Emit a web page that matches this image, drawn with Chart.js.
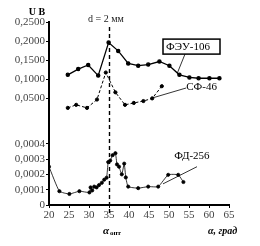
<!DOCTYPE html>
<html lang="ru">
<head>
<meta charset="UTF-8">
<script src="https://cdn.jsdelivr.net/npm/chart.js@4.4.0/dist/chart.umd.min.js"></script>
<style>
  html, body { margin: 0; padding: 0; background: #fff; }
  #wrap { width: 260px; height: 246px; }
</style>
</head>
<body>
<div id="wrap"><canvas id="myChart" width="260" height="246"></canvas></div>
<script>
// data
var feuX = [24.7, 27.3, 29.8, 32.3, 34.9, 37.3, 39.8, 42.3, 44.8, 47.6, 50.1, 52.6, 55.1, 57.4, 60.1, 62.6];
var feuY = [0.111, 0.126, 0.137, 0.109, 0.196, 0.174, 0.141, 0.135, 0.138, 0.146, 0.135, 0.111, 0.104, 0.102, 0.102, 0.102];

var sfX = [24.7, 26.8, 29.5, 32.0, 34.2, 36.6, 39.0, 41.2, 43.6, 45.8, 48.2];
var sfY = [0.024, 0.032, 0.024, 0.046, 0.117, 0.065, 0.032, 0.037, 0.042, 0.049, 0.081];

var fdX = [20, 22.6, 25.1, 27.6, 30.1, 30.4, 30.8, 31.3, 31.9, 32.5, 33.2, 33.8, 34.4, 34.8, 35.3, 35.9, 36.6, 37.0, 37.5, 38.2, 38.8, 39.2, 39.8, 42.3, 44.8, 47.3, 49.8, 52.3, 53.6];
var fdY = [0.00025, 0.00009, 0.000072, 0.00009, 0.000082, 0.000115, 0.000095, 0.00012, 0.000115, 0.00013, 0.000145, 0.000165, 0.000178, 0.00028, 0.00029, 0.000325, 0.000338, 0.000265, 0.00025, 0.0002, 0.00027, 0.00018, 0.00012, 0.00011, 0.00012, 0.00012, 0.000197, 0.000197, 0.00015];

var xTicks = [20, 25, 30, 35, 40, 45, 50, 55, 60, 65];
var upperTicks = [0.05, 0.1, 0.15, 0.2, 0.25];
var lowerTicks = [0, 0.0001, 0.0002, 0.0003, 0.0004];
var alphaOpt = 35;

function pts(xs, ys) {
    return xs.map(function (x, i) { return { x: x, y: ys[i] }; });
}
function fmt(v) {
    if (v === 0) return '0';
    return v.toFixed(4).replace('.', ',');
}

var serif = '"Liberation Serif", "DejaVu Serif", serif';

var extras = {
    id: 'extras',
    beforeDatasetsDraw: function (chart) {
        var ctx = chart.ctx;
        var xs = chart.scales.x;
        var px = Math.round(xs.getPixelForValue(alphaOpt)) + 0.5;
        ctx.save();
        ctx.strokeStyle = '#000';
        ctx.lineWidth = 1.4;
        ctx.setLineDash([4, 3]);
        ctx.beginPath();
        ctx.moveTo(px, 27);
        ctx.lineTo(px, chart.chartArea.bottom + 10);
        ctx.stroke();
        ctx.restore();
    },
    afterDraw: function (chart) {
        var ctx = chart.ctx;
        var xs = chart.scales.x, yu = chart.scales.yu, yl = chart.scales.yl;
        ctx.save();
        ctx.fillStyle = '#000';
        ctx.strokeStyle = '#000';
        ctx.textBaseline = 'middle';

        // axis titles
        ctx.font = 'bold 10px ' + serif;
        ctx.textAlign = 'center';
        ctx.fillText('U В', 37, 12);
        ctx.font = '10px ' + serif;
        ctx.fillStyle = '#222';
        ctx.fillText('d = 2 мм', xs.getPixelForValue(alphaOpt) - 3, 19);
        ctx.fillStyle = '#000';

        ctx.font = 'bold italic 11px ' + serif;
        ctx.textAlign = 'left';
        var ax = xs.getPixelForValue(alphaOpt) - 6;
        ctx.fillText('α', ax, 231);
        ctx.font = 'bold 7px ' + serif;
        ctx.fillText('опт', ax + 7, 233);
        ctx.font = 'bold italic 10px ' + serif;
        ctx.fillText('α, град', 208, 231);

        // series labels with leader lines
        ctx.lineWidth = 0.8;
        ctx.font = '11px ' + serif;

        // ФЭУ-106 boxed
        var bx = xs.getPixelForValue(48.5), by = yu.getPixelForValue(0.205);
        var bw = 57, bh = 15;
        ctx.lineWidth = 1.5;
        ctx.strokeRect(bx, by, bw, bh);
        ctx.fillText('ФЭУ-106', bx + 3, by + bh / 2 + 0.5);
        ctx.lineWidth = 0.8;
        ctx.beginPath();
        ctx.moveTo(bx + 22, by + bh);
        ctx.lineTo(xs.getPixelForValue(52.1), yu.getPixelForValue(0.116));
        ctx.stroke();

        // СФ-46
        var sx = xs.getPixelForValue(54.3), sy = yu.getPixelForValue(0.079);
        ctx.fillText('СФ-46', sx, sy);
        ctx.beginPath();
        ctx.moveTo(sx, sy + 1);
        ctx.lineTo(xs.getPixelForValue(45.8), yu.getPixelForValue(0.05));
        ctx.stroke();

        // ФД-256
        var fx = xs.getPixelForValue(51.3), fy = yl.getPixelForValue(0.000322);
        ctx.fillText('ФД-256', fx, fy);
        ctx.beginPath();
        ctx.moveTo(xs.getPixelForValue(57), yl.getPixelForValue(0.00025));
        ctx.lineTo(xs.getPixelForValue(48.5), yl.getPixelForValue(0.000138));
        ctx.stroke();
        ctx.restore();
    }
};

var tickFont = { family: serif, size: 11 };

var ctx = document.getElementById('myChart').getContext('2d');
var chart = new Chart(ctx, {
    type: 'line',
    data: {
        datasets: [{
            label: 'ФЭУ-106',
            data: pts(feuX, feuY),
            yAxisID: 'yu',
            borderColor: '#000',
            backgroundColor: '#000',
            borderWidth: 1.3,
            pointRadius: 1.6,
            tension: 0
        }, {
            label: 'СФ-46',
            data: pts(sfX, sfY),
            yAxisID: 'yu',
            borderColor: '#000',
            backgroundColor: '#000',
            borderWidth: 1,
            borderDash: [3, 2],
            pointRadius: 1.6,
            tension: 0
        }, {
            label: 'ФД-256',
            data: pts(fdX, fdY),
            yAxisID: 'yl',
            borderColor: '#000',
            backgroundColor: '#000',
            borderWidth: 0.8,
            pointRadius: 1.6,
            tension: 0.15
        }]
    },
    options: {
        responsive: false,
        animation: false,
        events: [],
        layout: { padding: { top: 22, right: 31, left: 0, bottom: 0 } },
        plugins: { legend: { display: false }, tooltip: { enabled: false } },
        scales: {
            x: {
                type: 'linear',
                min: 20,
                max: 65,
                afterBuildTicks: function (s) { s.ticks = xTicks.map(function (v) { return { value: v }; }); },
                afterFit: function (s) { s.height = 41; },
                border: { color: '#000', width: 2 },
                grid: { drawOnChartArea: false, color: '#000', tickLength: 3 },
                ticks: { color: '#444', font: tickFont, padding: 1, maxRotation: 0, autoSkip: false }
            },
            yl: {
                type: 'linear',
                position: 'left',
                stack: 'v',
                stackWeight: 76.6,
                min: 0,
                max: 0.0005,
                afterBuildTicks: function (s) { s.ticks = lowerTicks.map(function (v) { return { value: v }; }); },
                afterFit: function (s) { s.width = 49; },
                border: { color: '#000', width: 2 },
                grid: { drawOnChartArea: false, color: '#000', tickLength: 3 },
                ticks: { color: '#444', font: tickFont, padding: 1, autoSkip: false, callback: function (v) { return fmt(v); } }
            },
            yu: {
                type: 'linear',
                position: 'left',
                stack: 'v',
                stackWeight: 106.4,
                min: -0.03,
                max: 0.25,
                afterBuildTicks: function (s) { s.ticks = upperTicks.map(function (v) { return { value: v }; }); },
                afterFit: function (s) { s.width = 49; },
                border: { color: '#000', width: 2 },
                grid: { drawOnChartArea: false, color: '#000', tickLength: 3 },
                ticks: { color: '#444', font: tickFont, padding: 1, autoSkip: false, callback: function (v) { return fmt(v); } }
            }
        }
    },
    plugins: [extras]
});
</script>
</body>
</html>
